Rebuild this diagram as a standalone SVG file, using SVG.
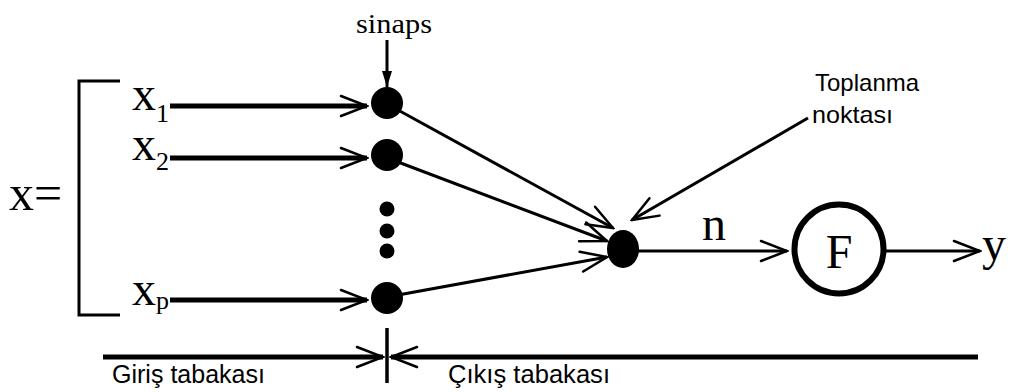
<svg xmlns="http://www.w3.org/2000/svg" width="1010" height="392" viewBox="0 0 1010 392">
  <style>
    .serif { font-family: "Liberation Serif", "Times New Roman", serif; fill: #000; }
    .sans { font-family: "Liberation Sans", Arial, sans-serif; fill: #000; }
    .thick { stroke: #000; stroke-width: 5; fill: none; }
    .mid { stroke: #000; stroke-width: 3; fill: none; }
    .head { stroke: #000; stroke-width: 2.5; fill: none; stroke-linecap: round; stroke-linejoin: miter; }
    .dot { fill: #000; }
  </style>
  <defs>
    <marker id="open" viewBox="0 0 30 24" refX="28" refY="12" markerWidth="30" markerHeight="24" markerUnits="userSpaceOnUse" orient="auto">
      <path d="M2,2 L28,12 L2,22" class="head"/>
    </marker>
    <marker id="solid" viewBox="0 0 16 10" refX="16" refY="5" markerWidth="16" markerHeight="10" markerUnits="userSpaceOnUse" orient="auto">
      <path d="M0,0 L16,5 L0,10 Z" fill="#000"/>
    </marker>
  </defs>
  <rect width="1010" height="392" fill="#fff"/>

  <!-- input vector bracket -->
  <g id="input-vector">
    <text class="serif" x="9" y="210" font-size="50">x=</text>
    <path d="M120,81 H79 V315 H120" stroke="#000" stroke-width="3" fill="none"/>
    <text class="serif" x="132" y="110" font-size="48">x<tspan font-size="26" dy="12">1</tspan></text>
    <text class="serif" x="132" y="160" font-size="48">x<tspan font-size="26" dy="10">2</tspan></text>
    <text class="serif" x="132" y="305" font-size="48">x<tspan font-size="26" dy="4">p</tspan></text>
  </g>

  <!-- synapse nodes -->
  <g id="synapse-1"><circle class="dot" cx="387" cy="103" r="16"/></g>
  <g id="synapse-2"><circle class="dot" cx="387" cy="155" r="16"/></g>
  <g id="ellipsis">
    <circle class="dot" cx="387" cy="209" r="7.5"/>
    <circle class="dot" cx="387" cy="231" r="7.5"/>
    <circle class="dot" cx="387" cy="251" r="7.5"/>
  </g>
  <g id="synapse-p"><circle class="dot" cx="387" cy="298" r="16"/></g>

  <!-- summation point -->
  <g id="summation"><ellipse class="dot" cx="623" cy="249" rx="16" ry="19"/></g>

  <!-- activation function -->
  <g id="activation">
    <circle cx="839" cy="249" r="44.5" stroke="#000" stroke-width="6" fill="#fff"/>
    <text class="serif" x="839" y="268" font-size="48" text-anchor="middle">F</text>
  </g>

  <!-- labels -->
  <g id="labels">
    <text class="serif" x="356" y="33" font-size="28" textLength="76" lengthAdjust="spacingAndGlyphs">sinaps</text>
    <text class="sans" x="815" y="91" font-size="24">Toplanma</text>
    <text class="sans" x="812" y="123" font-size="24" textLength="81" lengthAdjust="spacingAndGlyphs">noktası</text>
    <text class="serif" x="702" y="240" font-size="48">n</text>
    <text class="serif" x="982" y="260" font-size="48">y</text>
    <text class="sans" x="112" y="383" font-size="25" textLength="153" lengthAdjust="spacingAndGlyphs">Giriş tabakası</text>
    <text class="sans" x="448" y="383" font-size="25" textLength="162" lengthAdjust="spacingAndGlyphs">Çıkış tabakası</text>
  </g>

  <!-- connectors -->
  <g id="connectors">
    <line class="mid" x1="387" y1="40" x2="387" y2="87" marker-end="url(#solid)"/>
    <line class="thick" x1="170" y1="106" x2="367" y2="106" marker-end="url(#open)"/>
    <line class="thick" x1="170" y1="158" x2="367" y2="158" marker-end="url(#open)"/>
    <line class="thick" x1="170" y1="300" x2="367" y2="300" marker-end="url(#open)"/>
    <line class="mid" x1="398" y1="110" x2="613" y2="228" marker-end="url(#open)"/>
    <line class="mid" x1="398" y1="162" x2="607" y2="241" marker-end="url(#open)"/>
    <line class="mid" x1="398" y1="295" x2="607" y2="257" marker-end="url(#open)"/>
    <line class="mid" x1="808" y1="118" x2="632" y2="220" marker-end="url(#open)"/>
    <line class="mid" x1="638" y1="251" x2="787" y2="251" marker-end="url(#open)"/>
    <line class="mid" x1="886" y1="251" x2="980" y2="251" marker-end="url(#open)"/>
    <!-- layer boundary -->
    <line class="thick" x1="103" y1="357" x2="383" y2="357" marker-end="url(#open)"/>
    <line class="thick" x1="978" y1="357" x2="391" y2="357" marker-end="url(#open)"/>
    <line x1="387" y1="328" x2="387" y2="383" stroke="#000" stroke-width="3.5"/>
  </g>
</svg>
